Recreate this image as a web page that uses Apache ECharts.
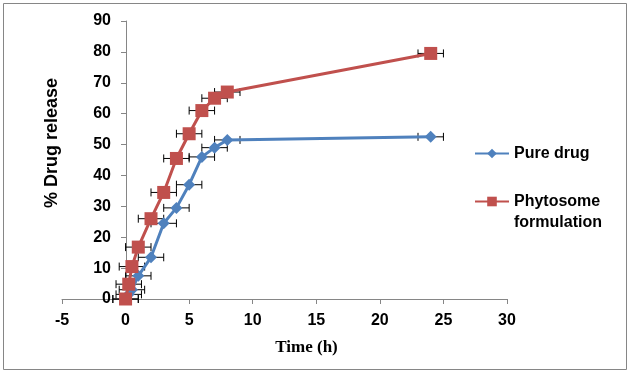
<!DOCTYPE html>
<html>
<head>
<meta charset="utf-8">
<script src="https://cdn.jsdelivr.net/npm/echarts@6/dist/echarts.min.js"></script>
<style>
  html, body { margin: 0; padding: 0; background: #fff; }
  #chart { width: 631px; height: 375px; }
</style>
</head>
<body>
<div id="chart"></div>
<script>
// time points (h)
const timeH = [0, 0.25, 0.5, 1, 2, 3, 4, 5, 6, 7, 8, 24];
// % drug release
const pureDrug = [0, 1.5, 3, 7.5, 13.5, 24.5, 29.5, 37, 46, 49, 51.5, 52.5];
const phytosome = [0, 4.8, 10.5, 16.8, 26, 34.5, 45.5, 53.5, 61, 65, 67, 79.5];
// horizontal error (h)
const timeErr = [1, 1, 1, 1, 1, 1, 1, 1, 1, 1, 1, 1];
const seriesNames = ['Pure drug', 'Phytosome formulation'];

const blue = '#4F81BD';
const red = '#C0504D';

const gridLeft = 62, gridWidth = 445;
const xMin = -5, xMax = 30;
// y axis crosses at time 0 (rounded so the 1px line stays crisp)
const yAxisShift = Math.round(-gridWidth * (0 - xMin) / (xMax - xMin));

function errData(vals) {
  return timeH.map((t, i) => [t, vals[i], t - timeErr[i], t + timeErr[i]]);
}

function renderErr(params, api) {
  const y = api.value(1);
  const a = api.coord([api.value(2), y]);
  const b = api.coord([api.value(3), y]);
  const h = 4;
  const st = { stroke: '#000', lineWidth: 1 };
  return {
    type: 'group',
    children: [
      { type: 'line', shape: { x1: a[0], y1: a[1], x2: b[0], y2: b[1] }, style: st },
      { type: 'line', shape: { x1: a[0], y1: a[1] - h, x2: a[0], y2: a[1] + h }, style: st },
      { type: 'line', shape: { x1: b[0], y1: b[1] - h, x2: b[0], y2: b[1] + h }, style: st }
    ]
  };
}

const chart = echarts.init(document.getElementById('chart'));
const lblFont = { fontFamily: 'Liberation Sans, Arial', fontWeight: 'bold', fontSize: 16, color: '#000' };
const legFont = { fontFamily: 'Liberation Sans, Arial', fontWeight: 'bold', fontSize: 16, lineHeight: 21, color: '#000' };

chart.setOption({
  animation: false,
  backgroundColor: '#fff',
  graphic: [{
    type: 'rect',
    shape: { x: 3.5, y: 3.5, width: 623, height: 366 },
    style: { fill: 'none', stroke: '#868686', lineWidth: 1 }
  }],
  grid: { left: gridLeft, width: gridWidth, top: 21, bottom: 76, outerBoundsMode: 'none', containLabel: false },
  legend: [{
    data: [seriesNames[0]],
    left: 469, top: 138,
    itemWidth: 34, itemHeight: 12,
    textStyle: legFont
  }, {
    data: [seriesNames[1]],
    left: 469, top: 165,
    itemWidth: 34, itemHeight: 12,
    formatter: () => ' \nPhytosome\nformulation',
    textStyle: legFont
  }],
  xAxis: {
    type: 'value',
    min: xMin, max: xMax, interval: 5,
    name: 'Time (h)',
    nameLocation: 'middle',
    nameGap: 40,
    nameTextStyle: { fontFamily: 'Liberation Serif, Times New Roman', fontWeight: 'bold', fontSize: 17, color: '#000', padding: [0, 0, 0, 44] },
    axisLine: { onZero: false, lineStyle: { color: '#868686', width: 1 } },
    axisTick: { show: true, length: 5, lineStyle: { color: '#868686' } },
    axisLabel: Object.assign({ margin: 14 }, lblFont),
    splitLine: { show: false }
  },
  yAxis: {
    type: 'value',
    min: 0, max: 90, interval: 10,
    position: 'left',
    offset: yAxisShift,
    name: '% Drug release',
    nameLocation: 'middle',
    nameGap: 65,
    nameRotate: 90,
    nameTextStyle: { fontFamily: 'Liberation Sans, Arial', fontWeight: 'bold', fontSize: 18, color: '#000', padding: [0, 0, 0, 34] },
    axisLine: { show: true, onZero: false, lineStyle: { color: '#868686', width: 1 } },
    axisTick: { show: true, length: 5, lineStyle: { color: '#868686' } },
    axisLabel: Object.assign({ margin: 15 }, lblFont),
    splitLine: { show: false }
  },
  series: [{
    type: 'custom',
    renderItem: renderErr,
    data: errData(pureDrug),
    z: 1, silent: true
  }, {
    type: 'custom',
    renderItem: renderErr,
    data: errData(phytosome),
    z: 1, silent: true
  }, {
    name: seriesNames[0],
    type: 'line',
    data: timeH.map((t, i) => [t, pureDrug[i]]),
    symbol: 'diamond',
    symbolSize: 12,
    lineStyle: { color: blue, width: 3 },
    itemStyle: { color: blue },
    z: 3
  }, {
    name: seriesNames[1],
    type: 'line',
    data: timeH.map((t, i) => [t, phytosome[i]]),
    symbol: 'rect',
    symbolSize: 13,
    lineStyle: { color: red, width: 3 },
    itemStyle: { color: red },
    z: 4
  }]
});
</script>
</body>
</html>
